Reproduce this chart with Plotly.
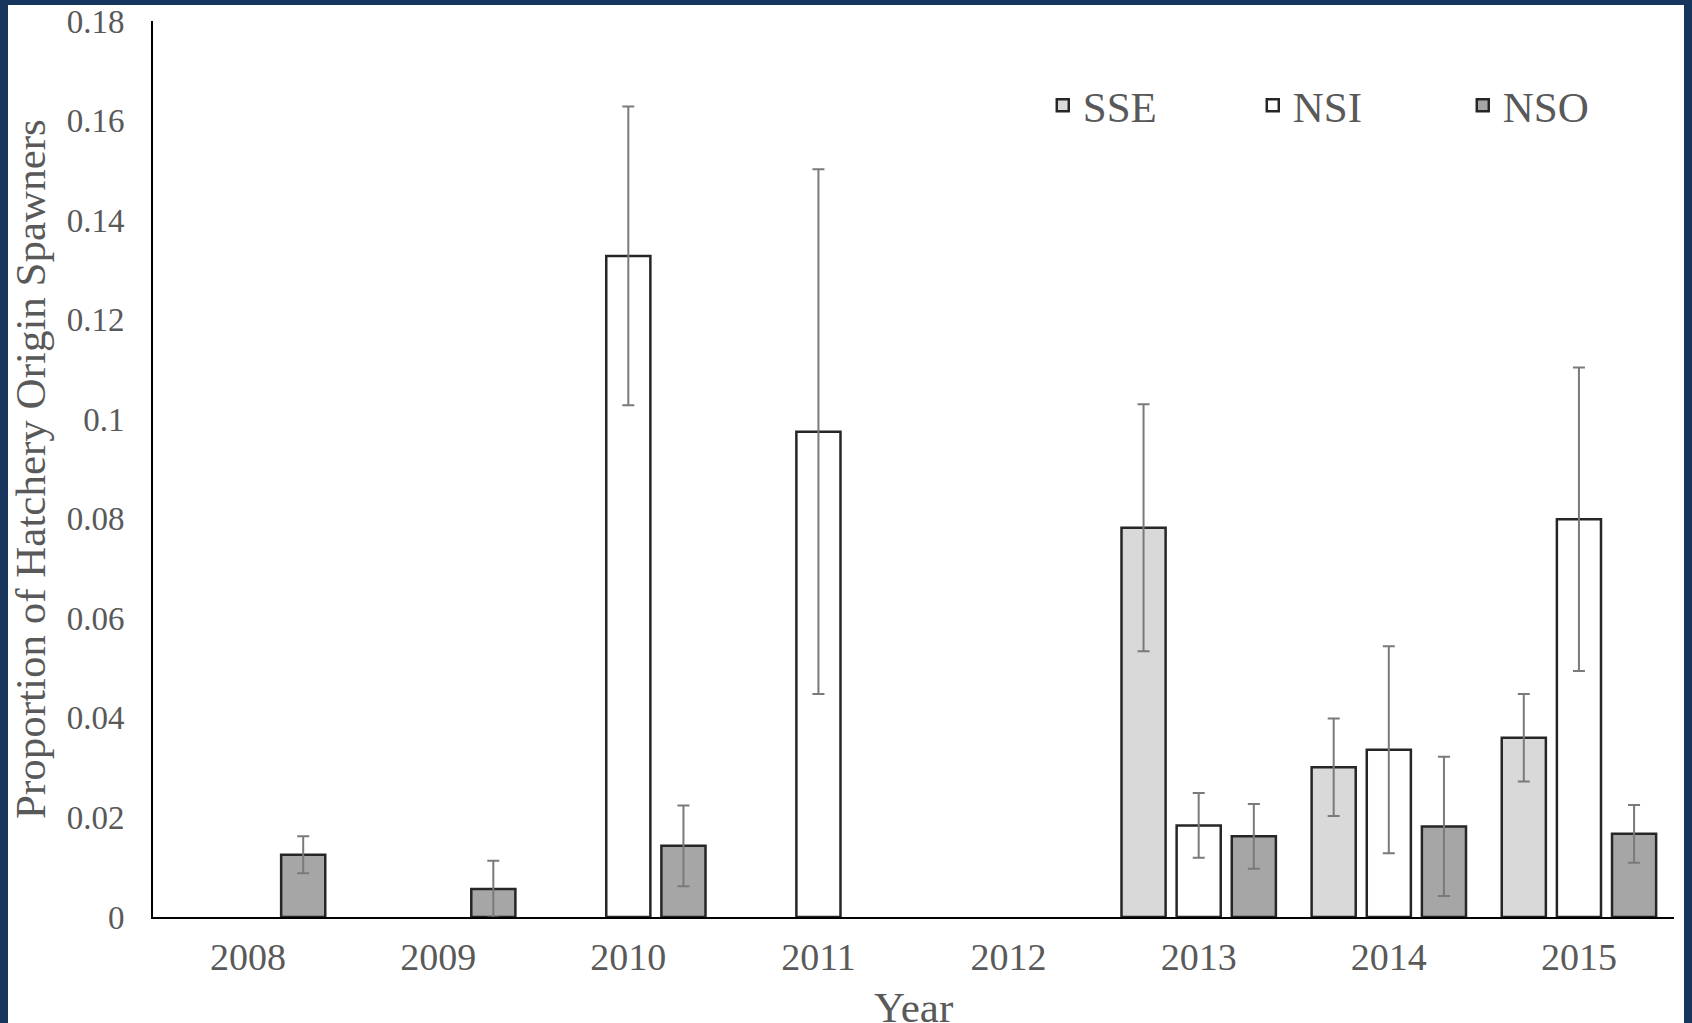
import plotly.graph_objects as go

years = ["2008", "2009", "2010", "2011", "2012", "2013", "2014", "2015"]

sse = [None, None, None, None, None, 0.0782, 0.0301, 0.0360]
sse_err = [0, 0, 0, 0, 0, 0.0248, 0.0098, 0.0088]

nsi = [None, None, 0.1328, 0.0975, None, 0.0184, 0.0336, 0.0799]
nsi_err = [0, 0, 0.0300, 0.0527, 0, 0.0065, 0.0208, 0.0305]

nso = [0.0125, 0.0056, 0.0143, None, None, 0.0162, 0.0182, 0.0167]
nso_err = [0.0037, 0.0057, 0.0081, 0, 0, 0.0065, 0.0140, 0.0058]

y_ticks = [0, 0.02, 0.04, 0.06, 0.08, 0.1, 0.12, 0.14, 0.16, 0.18]
y_tick_text = ["0", "0.02", "0.04", "0.06", "0.08", "0.1", "0.12", "0.14", "0.16", "0.18"]

series = [
    ("SSE", sse, sse_err, "#d9d9d9"),
    ("NSI", nsi, nsi_err, "#ffffff"),
    ("NSO", nso, nso_err, "#a6a6a6"),
]

FONT = "Liberation Serif, Times New Roman, serif"
GREY = "#595959"

fig = go.Figure()
for name, vals, errs, color in series:
    fig.add_trace(go.Bar(
        name=name,
        x=years,
        y=vals,
        marker=dict(color=color, line=dict(color="#262626", width=2.5)),
        error_y=dict(type="data", array=errs, visible=True,
                     color="#7a7a7a", thickness=2, width=6),
    ))

W, H = 1692, 1023
L, R, T, B = 153, 18, 21, 106
pw, ph = W - L - R, H - T - B

def px_x(p):
    return (p - L) / pw

def px_y(p):
    return (H - B - p) / ph

navy = "#17365d"
shapes = [
    dict(type="rect", xref="paper", yref="paper", layer="below",
         x0=px_x(8), x1=px_x(1684), y0=px_y(H + 5), y1=px_y(5),
         fillcolor="white", line=dict(width=0)),
]

annotations = [
    dict(text="Proportion of Hatchery Origin Spawners", textangle=-90,
         xref="paper", yref="paper", x=px_x(30), y=0.5,
         xanchor="center", yanchor="middle", showarrow=False,
         font=dict(size=43, color=GREY, family=FONT)),
    dict(text="Year",
         xref="paper", yref="paper", x=0.5, y=px_y(1007),
         xanchor="center", yanchor="middle", showarrow=False,
         font=dict(size=43, color=GREY, family=FONT)),
]

fig.update_layout(
    width=W, height=H,
    margin=dict(l=L, r=R, t=T, b=B, pad=0, autoexpand=False),
    paper_bgcolor=navy,
    plot_bgcolor="rgba(0,0,0,0)",
    barmode="group",
    bargap=0.13,
    bargroupgap=0.2,
    font=dict(family=FONT, color=GREY),
    shapes=shapes,
    annotations=annotations,
    showlegend=True,
    legend=dict(
        orientation="h",
        x=0.585, y=0.906, xanchor="left", yanchor="middle",
        font=dict(size=43, color=GREY, family=FONT),
        entrywidth=165, entrywidthmode="pixels",
        bgcolor="rgba(0,0,0,0)",
        traceorder="normal",
    ),
    xaxis=dict(
        showline=True, linecolor="#000000", linewidth=2,
        showgrid=False, zeroline=False, ticks="",
        tickfont=dict(size=38, color=GREY, family=FONT),
        ticklabelstandoff=5,
    ),
    yaxis=dict(
        range=[0, 0.18],
        tickvals=y_ticks, ticktext=y_tick_text,
        showline=True, linecolor="#000000", linewidth=2,
        showgrid=False, zeroline=False, ticks="",
        tickfont=dict(size=33, color=GREY, family=FONT),
        ticklabelstandoff=20,
    ),
)

fig.write_html("out.html", config={"displayModeBar": False},
               post_script="document.body.style.margin='0px';document.body.style.overflow='hidden';")
